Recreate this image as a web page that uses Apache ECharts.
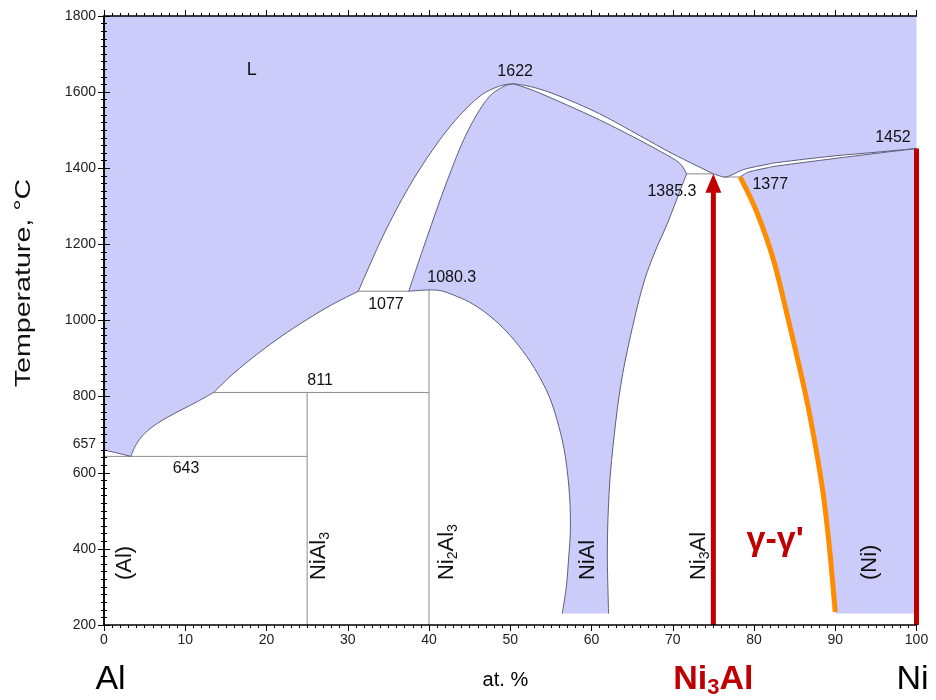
<!DOCTYPE html>
<html><head><meta charset="utf-8">
<script src="https://cdn.jsdelivr.net/npm/echarts@6/dist/echarts.min.js"></script>
<style>html,body{margin:0;padding:0;background:#fff}#c{width:936px;height:700px}</style>
</head><body><div id="c"></div>
<script>
// ---- axes ----
const xRange = [0, 100];
const yRange = [200, 1800];
const xTickStep = 10;
const yTickStep = 200;
const bottomT = 230;

// ---- phase boundaries: [at.% Ni, T °C] ----
const liquidusAl = [[0,660],[1,655],[2,650],[3.3,643]];
const liquidusNiAl3 = [[3.3,643],[3.8,668],[4.6,694],[5.8,718],[7.5,742],[9.5,765],[11.5,787],[13.5,811]];
const liquidusNi2Al3 = [[13.5,811],[16,862],[19,914],[22,961],[25,1003],[28,1041],[31.3,1077]];
const liquidusNiAlLeft = [[31.3,1077],[34.4,1225],[37.5,1350],[40.5,1450],[43.4,1530],[46.3,1590],[48.7,1616],[50.4,1622]];
const liquidusNiAlRight = [[50.4,1622],[52.8,1613],[56,1590],[61,1543],[66,1485],[70,1438],[75,1385.3]];
const liquidusNi = [[75,1385.3],[76.3,1377],[77,1380],[78,1390],[79.1,1399],[81.6,1410],[83.2,1416],[89.7,1432],[95,1442],[100,1452]];
const solidusNi = [[78.3,1377],[78.8,1384],[79.5,1391],[81.6,1401],[83.2,1407],[89.7,1425],[95,1439],[100,1452]];
const solidusNiAlLeft = [[37.5,1077],[39.7,1215],[42.2,1365],[44.6,1490],[47.1,1580],[49.1,1614],[50.4,1622]];
const solidusNiAlRight = [[50.4,1622],[53,1603],[57,1566],[61,1527],[65,1484],[68.5,1444],[70.8,1414],[71.7,1385.3]];
const solvusNiAlLeft = [[37.5,1077],[40,1080.3],[41.5,1078],[43,1067],[45,1048],[47,1020],[49,983],[51,935],[53,874],[54.8,800],[56,720],[56.8,640],[57.3,540],[57.4,450],[57.2,380],[56.9,300],[56.4,230]];
const solvusNiAlRight = [[62.1,230],[61.95,400],[62.2,560],[62.8,700],[63.6,830],[64.7,950],[66.3,1090],[67.8,1180],[69.3,1253],[70.7,1330],[71.7,1385.3]];
const solvusGammaPrime = [[78.3,1377],[80.3,1287],[82.4,1159],[84.3,995],[86.3,810],[87.4,690],[88.5,547],[89.3,400],[90,234]];

const invariantLines = [
  [[0,643],[25,643]],
  [[13.5,811],[40,811]],
  [[31.3,1077],[37.5,1077]],
  [[71.7,1385.3],[75,1385.3]],
  [[76.3,1377],[78.3,1377]],
  [[25,200],[25,811]],
  [[40,200],[40,1080.3]]
];

const ni3AlLine = [[75,200],[75,1385.3]];
const niLine = [[100,200],[100,1452]];

// ---- annotations ----
const pointLabels = [
  ['L',18.2,1658,18],
  ['1622',50.6,1653,16],
  ['1080.3',42.8,1112,16],
  ['1077',34.7,1041,16],
  ['811',26.6,841,16],
  ['643',10.1,612,16],
  ['1385.3',69.9,1338,16],
  ['1377',82,1356,16],
  ['1452',97.1,1480,16]
];
const phaseNames = [
  {parts:[['(Al)','n']], x:2.6},
  {parts:[['NiAl','n'],['3','s']], x:26.5},
  {parts:[['Ni','n'],['2','s'],['Al','n'],['3','s']], x:42.2},
  {parts:[['NiAl','n']], x:59.6},
  {parts:[['Ni','n'],['3','s'],['Al','n']], x:73.2},
  {parts:[['(Ni)','n']], x:94.3}
];
const phaseLabelBaseT = 318;
const gammaLabel = ["γ-γ'", 82.6, 421];
const bottomLabels = [
  {parts:[['Al','b']], x:0.8},
  {parts:[['at. %','m']], x:49.4},
  {parts:[['Ni','r'],['3','rs'],['Al','r']], x:75},
  {parts:[['Ni','b']], x:99.5}
];
const extraTick = ['657', 676];
const yTitle = 'Temperature, °C';

const LAV = '#ccccfa';
const EDGE = '#5d5d7e';
const FONT = 'Liberation Sans';

function toPath(segments, api, close) {
  let d = '';
  segments.forEach((seg, si) => {
    const p = seg.map(v => api.coord(v));
    d += (si === 0 ? 'M' : 'L') + p[0][0] + ',' + p[0][1];
    for (let i = 0; i < p.length - 1; i++) {
      const p0 = p[Math.max(i-1,0)], p1 = p[i], p2 = p[i+1], p3 = p[Math.min(i+2,p.length-1)];
      const c1 = [p1[0] + (p2[0]-p0[0])/6, p1[1] + (p2[1]-p0[1])/6];
      const c2 = [p2[0] - (p3[0]-p1[0])/6, p2[1] - (p3[1]-p1[1])/6];
      d += 'C' + c1[0] + ',' + c1[1] + ' ' + c2[0] + ',' + c2[1] + ' ' + p2[0] + ',' + p2[1];
    }
  });
  if (close) d += 'Z';
  return d;
}
const rev = a => a.slice().reverse();

const regions = [
  // liquid
  [[[0,yRange[1]],[0,660]], liquidusAl, liquidusNiAl3, liquidusNi2Al3, liquidusNiAlLeft, liquidusNiAlRight, liquidusNi, [[100,1452],[100,yRange[1]]]],
  // NiAl
  [solvusNiAlLeft, [[56.4,bottomT],[62.1,bottomT]], solvusNiAlRight, rev(solidusNiAlRight), rev(solidusNiAlLeft)],
  // (Ni)
  [solidusNi, [[100,1452],[100,bottomT]], [[100,bottomT],[90,bottomT]], rev(solvusGammaPrime)]
];
const boundaryCurves = [liquidusAl, liquidusNiAl3, liquidusNi2Al3, liquidusNiAlLeft, liquidusNiAlRight, liquidusNi,
  solidusNi, solidusNiAlLeft, solidusNiAlRight, solvusNiAlLeft, solvusNiAlRight];

const richStyles = {
  n:{fontSize:22, lineHeight:26, fontFamily:FONT, fill:'#111'},
  s:{fontSize:14, lineHeight:14, verticalAlign:'bottom', fontFamily:FONT, fill:'#111'},
  b:{fontSize:34, lineHeight:38, fontFamily:FONT, fill:'#000'},
  m:{fontSize:20, lineHeight:38, fontFamily:FONT, fill:'#000'},
  r:{fontSize:34, lineHeight:38, fontWeight:'bold', fontFamily:FONT, fill:'#c00000'},
  rs:{fontSize:22, lineHeight:22, fontWeight:'bold', verticalAlign:'bottom', fontFamily:FONT, fill:'#c00000'}
};
const richText = parts => parts.map(p => '{' + p[1] + '|' + p[0] + '}').join('');

const axisCommon = {
  type:'value', z:10,
  axisLine:{show:true, lineStyle:{color:'#000', width:1.5}},
  axisTick:{show:true, inside:false, length:6, lineStyle:{color:'#000', width:1}},
  minorTick:{show:true, splitNumber:10, length:3, lineStyle:{color:'#000', width:1}},
  splitLine:{show:false}
};
const plainNum = v => String(v);

const option = {
  animation:false,
  grid:{left:104, right:19.5, top:16, bottom:75, show:true, backgroundColor:'#fff', borderWidth:0,
        containLabel:false, outerBoundsMode:'none'},
  graphic:[{
    type:'text', x:24, y:283, rotation:Math.PI/2, scaleX:1.3, scaleY:1,
    style:{text:yTitle, fontSize:22, fontFamily:FONT, fill:'#111', align:'center', verticalAlign:'middle'}
  }],
  xAxis:[
    Object.assign({}, axisCommon, {position:'bottom', min:xRange[0], max:xRange[1], interval:xTickStep,
      axisLabel:{color:'#222', fontSize:14, fontFamily:FONT, margin:8, formatter:plainNum}}),
    Object.assign({}, axisCommon, {position:'top', min:xRange[0], max:xRange[1], interval:xTickStep, axisLabel:{show:false}})
  ],
  yAxis:[
    Object.assign({}, axisCommon, {position:'left', min:yRange[0], max:yRange[1], interval:yTickStep,
      axisLabel:{color:'#222', fontSize:14, fontFamily:FONT, margin:8, formatter:plainNum}}),
    Object.assign({}, axisCommon, {position:'right', min:yRange[0], max:yRange[1], interval:yTickStep, axisLabel:{show:false}})
  ],
  series:[
    {
      type:'custom', name:'regions', coordinateSystem:'cartesian2d', z:1,
      data: regions.map((r,i)=>[i]), encode:{x:-1,y:-1},
      renderItem:(params, api) => ({type:'path', shape:{pathData: toPath(regions[params.dataIndex], api, true)},
        style:{fill:LAV, stroke:null}})
    },
    {
      type:'custom', name:'invariants', coordinateSystem:'cartesian2d', z:2,
      data: invariantLines.map((r,i)=>[i]), encode:{x:-1,y:-1},
      renderItem:(params, api) => {
        const l = invariantLines[params.dataIndex];
        const a = api.coord(l[0]), b = api.coord(l[1]);
        return {type:'line', shape:{x1:a[0],y1:a[1],x2:b[0],y2:b[1]}, style:{stroke:'#8c8c8c', lineWidth:1}};
      }
    },
    {
      type:'custom', name:'boundaries', coordinateSystem:'cartesian2d', z:3,
      data: boundaryCurves.map((r,i)=>[i]), encode:{x:-1,y:-1},
      renderItem:(params, api) => ({type:'path', shape:{pathData: toPath([boundaryCurves[params.dataIndex]], api, false)},
        style:{fill:null, stroke:EDGE, lineWidth:1}})
    },
    {
      type:'custom', name:'gammaPrime', coordinateSystem:'cartesian2d', z:4,
      data:[[0]], encode:{x:-1,y:-1},
      renderItem:(params, api) => ({type:'path', shape:{pathData: toPath([solvusGammaPrime], api, false)},
        style:{fill:null, stroke:'#ff8c00', lineWidth:5, lineCap:'butt'}})
    },
    {
      type:'custom', name:'redLines', coordinateSystem:'cartesian2d', z:5, clip:false,
      data:[[0],[1]], encode:{x:-1,y:-1},
      renderItem:(params, api) => {
        if (params.dataIndex === 0) {
          const a = api.coord(ni3AlLine[0]), t = api.coord(ni3AlLine[1]);
          return {type:'group', children:[
            {type:'line', shape:{x1:a[0],y1:a[1],x2:t[0],y2:t[1]+16}, style:{stroke:'#c00000', lineWidth:5}},
            {type:'polygon', shape:{points:[[t[0],t[1]],[t[0]-8,t[1]+19],[t[0]+8,t[1]+19]]}, style:{fill:'#c00000'}}
          ]};
        }
        const a = api.coord(niLine[0]), t = api.coord(niLine[1]);
        return {type:'line', shape:{x1:a[0],y1:a[1],x2:t[0],y2:t[1]}, style:{stroke:'#c00000', lineWidth:5}};
      }
    },
    {
      type:'custom', name:'labels', coordinateSystem:'cartesian2d', z:6, clip:false,
      data: pointLabels.map((r,i)=>[i]), encode:{x:-1,y:-1},
      renderItem:(params, api) => {
        const l = pointLabels[params.dataIndex];
        const p = api.coord([l[1], l[2]]);
        return {type:'text', x:p[0], y:p[1], style:{text:l[0], fontSize:l[3], fontFamily:FONT, fill:'#111', align:'center', verticalAlign:'middle'}};
      }
    },
    {
      type:'custom', name:'phases', coordinateSystem:'cartesian2d', z:6, clip:false,
      data: phaseNames.map((r,i)=>[i]), encode:{x:-1,y:-1},
      renderItem:(params, api) => {
        const l = phaseNames[params.dataIndex];
        const p = api.coord([l.x, phaseLabelBaseT]);
        return {type:'text', x:p[0], y:p[1], rotation:Math.PI/2,
          style:{text:richText(l.parts), rich:richStyles, align:'left', verticalAlign:'middle'}};
      }
    },
    {
      type:'custom', name:'gammaLabel', coordinateSystem:'cartesian2d', z:6, clip:false,
      data:[[0]], encode:{x:-1,y:-1},
      renderItem:(params, api) => {
        const p = api.coord([gammaLabel[1], gammaLabel[2]]);
        return {type:'text', x:p[0], y:p[1], style:{text:gammaLabel[0], fontSize:34, fontWeight:'bold', fontFamily:FONT, fill:'#c00000', align:'center', verticalAlign:'middle'}};
      }
    },
    {
      type:'custom', name:'bottomLabels', coordinateSystem:'cartesian2d', z:6, clip:false,
      data: bottomLabels.map((r,i)=>[i]), encode:{x:-1,y:-1},
      renderItem:(params, api) => {
        const l = bottomLabels[params.dataIndex];
        const p = api.coord([l.x, yRange[0]]);
        return {type:'text', x:p[0], y:p[1]+55, style:{text:richText(l.parts), rich:richStyles, align:'center', verticalAlign:'middle'}};
      }
    },
    {
      type:'custom', name:'extraTick', coordinateSystem:'cartesian2d', z:6, clip:false,
      data:[[0]], encode:{x:-1,y:-1},
      renderItem:(params, api) => {
        const p = api.coord([0, extraTick[1]]);
        return {type:'text', x:p[0]-8, y:p[1], style:{text:extraTick[0], fontSize:14, fontFamily:FONT, fill:'#222', align:'right', verticalAlign:'middle'}};
      }
    }
  ]
};
echarts.init(document.getElementById('c'), null, {renderer:'canvas'}).setOption(option);
</script>
</body></html>
